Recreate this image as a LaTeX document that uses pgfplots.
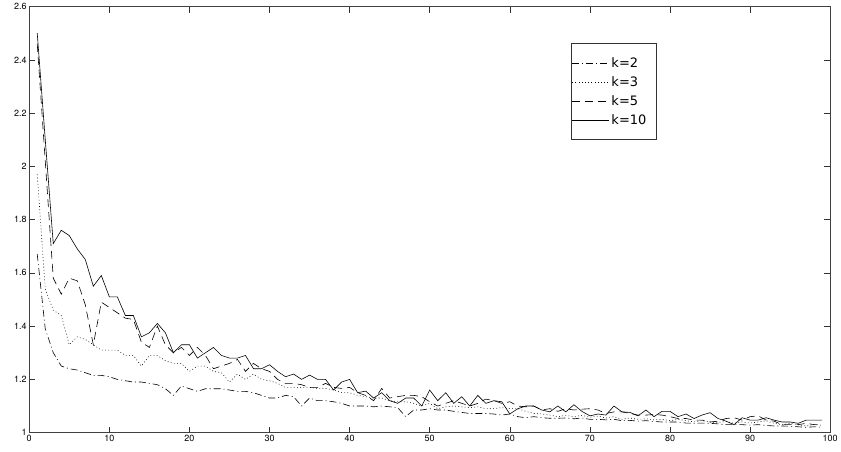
\documentclass[border=0pt]{standalone}
\usepackage{fontspec}
\setmainfont{TeX Gyre Heros}
\newfontfamily\legfont{DejaVu Sans}
\usepackage{pgfplots}
\pgfplotsset{compat=1.18}
\usepackage{pgfplotstable}

\pgfplotstableread{
x y
1 1.67
2 1.39
3 1.30
4 1.25
5 1.24
6 1.235
7 1.225
8 1.215
9 1.215
10 1.21
11 1.20
12 1.195
13 1.19
14 1.19
15 1.185
16 1.18
17 1.165
18 1.14
19 1.175
20 1.165
21 1.155
22 1.165
23 1.165
24 1.165
25 1.16
26 1.155
27 1.155
28 1.15
29 1.14
30 1.13
31 1.13
32 1.14
33 1.135
34 1.10
35 1.13
36 1.12
37 1.12
38 1.116
39 1.11
40 1.10
41 1.10
42 1.10
43 1.097
44 1.10
45 1.097
46 1.094
47 1.06
48 1.085
49 1.085
50 1.09
51 1.085
52 1.085
53 1.08
54 1.076
55 1.072
56 1.072
57 1.072
58 1.07
59 1.066
60 1.07
61 1.06
62 1.056
63 1.06
64 1.056
65 1.054
66 1.054
67 1.055
68 1.052
69 1.055
70 1.05
71 1.05
72 1.048
73 1.05
74 1.045
75 1.046
76 1.043
77 1.045
78 1.042
79 1.04
80 1.04
81 1.04
82 1.036
83 1.035
84 1.036
85 1.035
86 1.033
87 1.03
88 1.03
89 1.03
90 1.028
91 1.03
92 1.027
93 1.025
94 1.025
95 1.024
96 1.022
97 1.02
98 1.022
99 1.02
}\kii

\pgfplotstableread{
x y
1 1.97
2 1.54
3 1.46
4 1.44
5 1.33
6 1.36
7 1.35
8 1.33
9 1.31
10 1.31
11 1.31
12 1.29
13 1.29
14 1.25
15 1.29
16 1.29
17 1.27
18 1.26
19 1.26
20 1.23
21 1.25
22 1.25
23 1.23
24 1.225
25 1.19
26 1.22
27 1.20
28 1.22
29 1.20
30 1.195
31 1.185
32 1.17
33 1.17
34 1.17
35 1.17
36 1.166
37 1.166
38 1.16
39 1.15
40 1.15
41 1.14
42 1.135
43 1.13
44 1.13
45 1.12
46 1.116
47 1.116
48 1.11
49 1.10
50 1.11
51 1.09
52 1.097
53 1.10
54 1.097
55 1.094
56 1.097
57 1.09
58 1.09
59 1.094
60 1.09
61 1.09
62 1.08
63 1.072
64 1.07
65 1.066
66 1.06
67 1.065
68 1.06
69 1.065
70 1.058
71 1.062
72 1.055
73 1.06
74 1.05
75 1.055
76 1.05
77 1.052
78 1.048
79 1.05
80 1.045
81 1.05
82 1.045
83 1.04
84 1.045
85 1.04
86 1.038
87 1.042
88 1.035
89 1.04
90 1.036
91 1.04
92 1.045
93 1.035
94 1.03
95 1.035
96 1.03
97 1.025
98 1.03
99 1.028
}\kiii

\pgfplotstableread{
x y
1 2.46
2 2.02
3 1.58
4 1.52
5 1.58
6 1.57
7 1.48
8 1.33
9 1.49
10 1.47
11 1.45
12 1.43
13 1.425
14 1.34
15 1.32
16 1.40
17 1.33
18 1.30
19 1.32
20 1.29
21 1.32
22 1.29
23 1.24
24 1.25
25 1.26
26 1.275
27 1.23
28 1.26
29 1.24
30 1.23
31 1.20
32 1.185
33 1.185
34 1.18
35 1.17
36 1.17
37 1.185
38 1.17
39 1.166
40 1.17
41 1.15
42 1.14
43 1.12
44 1.166
45 1.13
46 1.135
47 1.14
48 1.14
49 1.135
50 1.116
51 1.10
52 1.11
53 1.12
54 1.11
55 1.10
56 1.11
57 1.126
58 1.12
59 1.11
60 1.116
61 1.10
62 1.097
63 1.10
64 1.085
65 1.09
66 1.08
67 1.09
68 1.085
69 1.088
70 1.09
71 1.085
72 1.072
73 1.078
74 1.078
75 1.072
76 1.066
77 1.066
78 1.068
79 1.066
80 1.06
81 1.053
82 1.053
83 1.047
84 1.047
85 1.04
86 1.043
87 1.053
88 1.056
89 1.047
90 1.06
91 1.063
92 1.047
93 1.043
94 1.03
95 1.03
96 1.03
97 1.035
98 1.03
99 1.03
}\kv

\pgfplotstableread{
x y
1 2.50
2 2.10
3 1.71
4 1.76
5 1.74
6 1.69
7 1.65
8 1.55
9 1.59
10 1.51
11 1.51
12 1.44
13 1.44
14 1.36
15 1.375
16 1.41
17 1.375
18 1.30
19 1.33
20 1.33
21 1.28
22 1.30
23 1.32
24 1.29
25 1.28
26 1.28
27 1.29
28 1.24
29 1.24
30 1.255
31 1.23
32 1.21
33 1.22
34 1.20
35 1.216
36 1.20
37 1.20
38 1.16
39 1.19
40 1.20
41 1.15
42 1.156
43 1.13
44 1.15
45 1.12
46 1.11
47 1.13
48 1.13
49 1.10
50 1.16
51 1.12
52 1.15
53 1.11
54 1.135
55 1.10
56 1.14
57 1.11
58 1.12
59 1.116
60 1.07
61 1.09
62 1.10
63 1.10
64 1.085
65 1.078
66 1.10
67 1.078
68 1.105
69 1.08
70 1.063
71 1.07
72 1.066
73 1.10
74 1.078
75 1.076
76 1.063
77 1.085
78 1.06
79 1.08
80 1.08
81 1.06
82 1.07
83 1.053
84 1.066
85 1.075
86 1.053
87 1.043
88 1.03
89 1.056
90 1.047
91 1.047
92 1.056
93 1.047
94 1.04
95 1.04
96 1.035
97 1.047
98 1.047
99 1.047
}\kx

\newcommand{\legtxt}[1]{\makebox[44pt][l]{#1}}

\begin{document}
\begin{tikzpicture}[x=1pt,y=1pt]
\path (-29.3,-19) rectangle (811.7,431);
\begin{axis}[
  at={(0,0)}, anchor=south west,
  scale only axis,
  width=802.7pt, height=427pt,
  xmin=0, xmax=100, ymin=1, ymax=2.6,
  xtick={0,10,...,100},
  ytick={1,1.2,...,2.6},
  yticklabels={1,1.2,1.4,1.6,1.8,2,2.2,2.4,2.6},
  tick align=inside,
  major tick length=6pt,
  tick style={black!80, line width=0.6pt},
  axis line style={black!75, line width=0.8pt},
  /pgf/number format/assume math mode=true,
  tick label style={font=\fontsize{9}{10}\selectfont, black},
  xticklabel style={yshift=1pt},
  yticklabel style={xshift=1pt},
  legend style={at={(0.676,0.914)}, anchor=north west,
    draw=black!80, line width=0.6pt,
    font=\legfont\fontsize{13}{14}\selectfont,
    inner xsep=1pt, inner ysep=14.5pt,
    row sep=9pt, column sep=2pt,
    nodes={inner sep=0pt, text height=10pt, text depth=0pt},
    cells={anchor=west}},
  legend image code/.code={\draw[#1] (0pt,0pt) -- (37pt,0pt);},
  every axis plot/.append style={black, line width=0.6pt},
]
\addplot[dash pattern=on 7pt off 3pt on 1pt off 3pt] table[x=x,y=y] {\kii};
\addlegendentry{\legtxt{k=2}}
\addplot[dash pattern=on 0.8pt off 2.4pt] table[x=x,y=y] {\kiii};
\addlegendentry{\legtxt{k=3}}
\addplot[dash pattern=on 8pt off 5pt] table[x=x,y=y] {\kv};
\addlegendentry{\legtxt{k=5}}
\addplot[solid] table[x=x,y=y] {\kx};
\addlegendentry{\legtxt{k=10}}
\end{axis}
\end{tikzpicture}
\end{document}
